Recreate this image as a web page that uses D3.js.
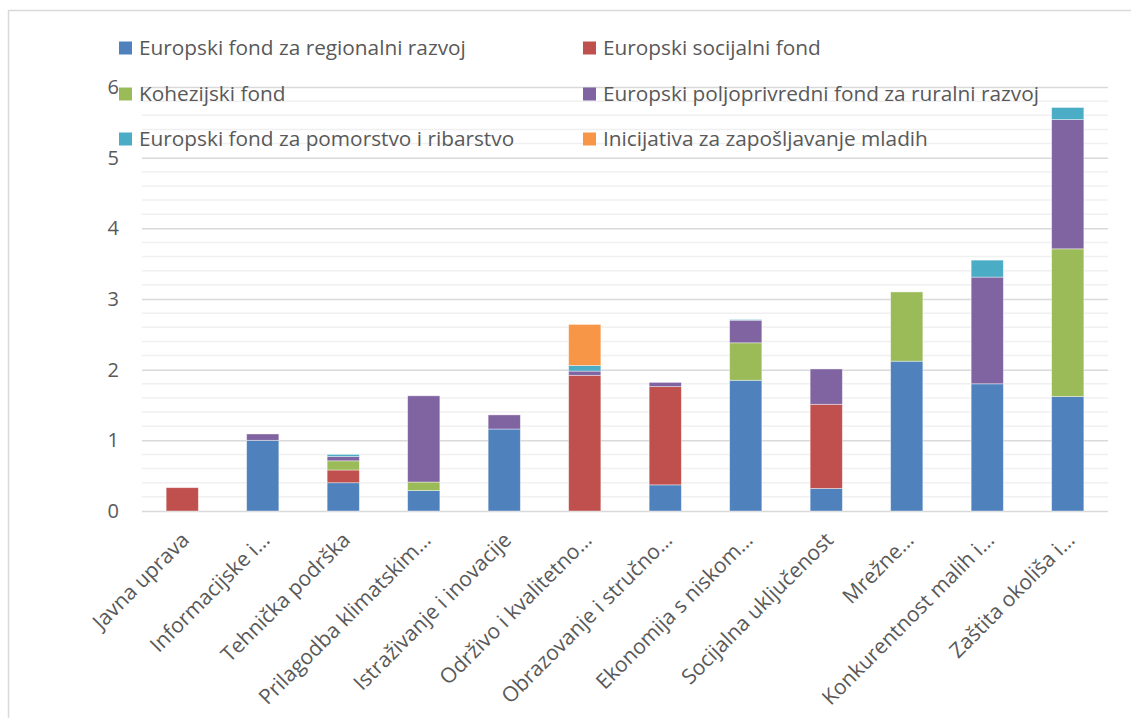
<!DOCTYPE html>
<html>
<head>
<meta charset="utf-8">
<script src="https://cdn.jsdelivr.net/npm/d3@7"></script>
<style>
  body { margin: 0; background: #fff; }
  svg { font-family: "Open Sans", "Noto Sans", sans-serif; }
</style>
</head>
<body>
<svg width="1131" height="718"></svg>
<script>
// categories along the x axis
var categories = [
  "Javna uprava", "Informacijske i…", "Tehnička podrška", "Prilagodba klimatskim…",
  "Istraživanje i inovacije", "Održivo i kvalitetno…", "Obrazovanje i stručno…",
  "Ekonomija s niskom…", "Socijalna uključenost", "Mrežne…",
  "Konkurentnost malih i…", "Zaštita okoliša i…"
];

var seriesNames = [
  "Europski fond za regionalni razvoj", "Europski socijalni fond",
  "Kohezijski fond", "Europski poljoprivredni fond za ruralni razvoj",
  "Europski fond za pomorstvo i ribarstvo", "Inicijativa za zapošljavanje mladih"
];

// values, one array per fund
var regional = [0, 1.00, 0.40, 0.29, 1.16, 0, 0.37, 1.85, 0.32, 2.12, 1.80, 1.62];
var social   = [0.33, 0, 0.18, 0, 0, 1.92, 1.39, 0, 1.19, 0, 0, 0];
var cohesion = [0, 0, 0.13, 0.12, 0, 0, 0, 0.53, 0, 0.98, 0, 2.09];
var rural    = [0, 0.09, 0.06, 1.22, 0.20, 0.06, 0.06, 0.32, 0.50, 0, 1.51, 1.83];
var maritime = [0, 0, 0.03, 0, 0, 0.08, 0, 0.01, 0, 0, 0.24, 0.17];
var youth    = [0, 0, 0, 0, 0, 0.58, 0, 0, 0, 0, 0, 0];

var yTicks = [0, 1, 2, 3, 4, 5, 6];

var colors = ["#4F81BD", "#C0504D", "#9BBB59", "#8064A2", "#4BACC6", "#F79646"];

var allSeries = [regional, social, cohesion, rural, maritime, youth];

// build rows for d3.stack
var rows = categories.map(function(c, i) {
  var row = { category: c };
  seriesNames.forEach(function(s, j) { row[s] = allSeries[j][i]; });
  return row;
});

var svg = d3.select("svg");

var margin = { top: 87, right: 23, bottom: 207, left: 142 };
var width = 1131, height = 718;
var fontFam = '"Open Sans", "Noto Sans", sans-serif';

// chart border
svg.append("rect")
  .attr("x", 8.5).attr("y", 10.5)
  .attr("width", 1140).attr("height", 720)
  .attr("fill", "none")
  .attr("stroke", "#d9d9d9")
  .attr("stroke-width", 1.5);

var x = d3.scaleBand()
  .domain(categories)
  .range([margin.left, width - margin.right])
  .paddingInner(0.6)
  .paddingOuter(0.3);

var y = d3.scaleLinear()
  .domain([0, 6])
  .range([511, margin.top]);

// minor gridlines every 0.2
var minor = d3.range(0, 6.01, 0.2).filter(function(v) {
  return Math.abs(v - Math.round(v)) > 0.01;
});
svg.append("g")
  .selectAll("line")
  .data(minor)
  .enter()
  .append("line")
  .attr("x1", margin.left).attr("x2", width - margin.right)
  .attr("y1", function(d) { return y(d); })
  .attr("y2", function(d) { return y(d); })
  .attr("stroke", "#f0f0f0")
  .attr("stroke-width", 1.5);

// major gridlines
var yAxis = d3.axisLeft(y)
  .tickValues(yTicks)
  .tickFormat(d3.format("d"))
  .tickSize(-(width - margin.right - margin.left));

var yGroup = svg.append("g")
  .attr("transform", "translate(" + margin.left + ",0)")
  .call(yAxis);
yGroup.select(".domain").remove();
yGroup.selectAll(".tick line")
  .attr("stroke", "#d9d9d9")
  .attr("stroke-width", 1.5);
yGroup.selectAll(".tick text")
  .attr("x", -23)
  .attr("fill", "#595959")
  .style("font-family", fontFam)
  .style("font-size", "20px");

// stacked bars
var stack = d3.stack().keys(seriesNames);
var layers = stack(rows);

svg.append("g")
  .selectAll("g")
  .data(layers)
  .enter()
  .append("g")
  .attr("fill", function(d, i) { return colors[i]; })
  .selectAll("rect")
  .data(function(d) { return d.filter(function(p) { return p[1] - p[0] > 0; }); })
  .enter()
  .append("rect")
  .attr("x", function(d) { return x(d.data.category); })
  .attr("width", x.bandwidth())
  .attr("y", function(d) { return y(d[1]); })
  .attr("height", function(d) { return y(d[0]) - y(d[1]); })
  .attr("stroke", "#ffffff")
  .attr("stroke-opacity", 0.5)
  .attr("stroke-width", 0.8);

// x axis labels, rotated
var xAxis = d3.axisBottom(x).tickSize(0);
var xGroup = svg.append("g")
  .attr("transform", "translate(0,511)")
  .call(xAxis);
xGroup.select(".domain").remove();
xGroup.selectAll(".tick text")
  .attr("fill", "#595959")
  .style("font-family", fontFam)
  .style("font-size", "21px")
  .style("text-anchor", "end")
  .attr("dy", "0.35em")
  .attr("transform", "translate(1,23) rotate(-45)");

// legend
var legendPos = [
  [119, 48], [583, 48],
  [119, 94], [583, 94],
  [119, 139], [583, 139]
];
var legend = svg.append("g");
seriesNames.forEach(function(name, i) {
  var g = legend.append("g")
    .attr("transform", "translate(" + legendPos[i][0] + "," + legendPos[i][1] + ")");
  g.append("rect")
    .attr("x", 0).attr("y", -6.5)
    .attr("width", 13).attr("height", 13)
    .attr("fill", colors[i]);
  g.append("text")
    .attr("x", 20).attr("y", 0)
    .attr("dy", "0.35em")
    .attr("fill", "#595959")
    .style("font-size", "20.8px")
    .text(name);
});
</script>
</body>
</html>
